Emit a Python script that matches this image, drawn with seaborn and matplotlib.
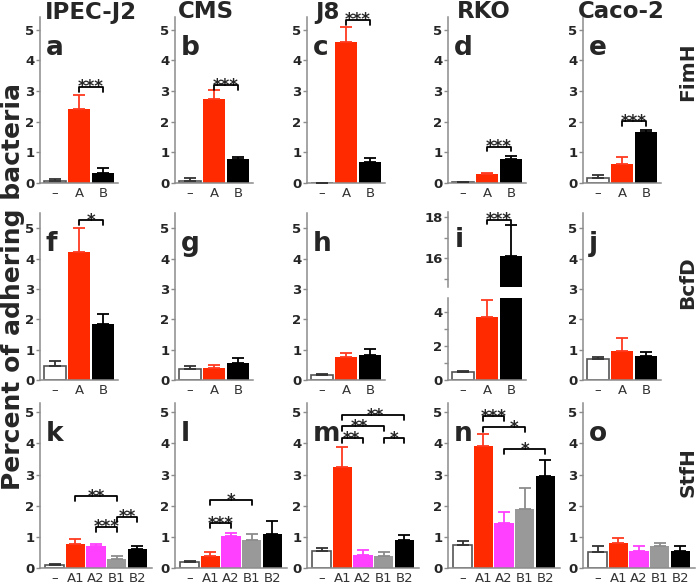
import numpy as np
import pandas as pd
import matplotlib
matplotlib.use("Agg")
import matplotlib.pyplot as plt
import seaborn as sns

# Data lest av figuren (gjennomsnitt og feil oppover)
cell_lines = ["IPEC-J2", "CMS", "J8", "RKO", "Caco-2"]
genes = ["FimH", "BcfD", "StfH"]
panel_letters = [["a", "b", "c", "d", "e"], ["f", "g", "h", "i", "j"], ["k", "l", "m", "n", "o"]]
cats_ab = ["–", "A", "B"]
cats_stfh = ["–", "A1", "A2", "B1", "B2"]

fimh_mean = [[0.07, 2.42, 0.32], [0.05, 2.75, 0.78], [0.01, 4.62, 0.67], [0.02, 0.30, 0.79], [0.17, 0.63, 1.65]]
fimh_err = [[0.07, 0.44, 0.17], [0.12, 0.30, 0.07], [0.0, 0.46, 0.16], [0.0, 0.04, 0.08], [0.10, 0.22, 0.09]]

bcfd_mean = [[0.45, 4.21, 1.85], [0.36, 0.38, 0.56], [0.16, 0.77, 0.82], [0.45, 3.75, 16.1], [0.70, 0.97, 0.79]]
bcfd_err = [[0.17, 0.80, 0.33], [0.09, 0.12, 0.15], [0.04, 0.11, 0.20], [0.10, 1.00, 1.50], [0.07, 0.40, 0.14]]

stfh_mean = [[0.09, 0.78, 0.70, 0.29, 0.60], [0.18, 0.40, 1.02, 0.90, 1.10], [0.56, 3.23, 0.43, 0.38, 0.89],
             [0.73, 3.92, 1.45, 1.90, 2.96], [0.50, 0.80, 0.54, 0.70, 0.56]]
stfh_err = [[0.04, 0.14, 0.08, 0.09, 0.10], [0.04, 0.10, 0.11, 0.20, 0.40], [0.09, 0.67, 0.16, 0.12, 0.16],
            [0.13, 0.38, 0.35, 0.68, 0.50], [0.22, 0.15, 0.16, 0.11, 0.14]]

# (kolonne, venstre søyle, høyre søyle, høyde, stjerner, x for stjernene)
fimh_sig = [(0, 1, 2, 3.14, "***", 1.5), (1, 1, 2, 3.2, "***", 1.5), (2, 1, 2, 5.33, "***", 1.5),
            (3, 1, 2, 1.19, "***", 1.5), (4, 1, 2, 2.01, "***", 1.5)]
bcfd_sig = [(0, 1, 2, 5.27, "*", 1.5), (3, 1, 2, 17.87, "***", 1.5)]
stfh_sig = [(0, 1, 3, 2.3, "**", 2.0), (0, 2, 3, 1.32, "***", 2.5), (0, 3, 4, 1.65, "**", 3.5),
            (1, 1, 3, 2.18, "*", 2.0), (1, 1, 2, 1.43, "***", 1.5),
            (2, 1, 4, 4.9, "**", 2.6), (2, 1, 3, 4.55, "**", 1.8), (2, 1, 2, 4.17, "**", 1.45), (2, 3, 4, 4.17, "*", 3.5),
            (3, 1, 2, 4.87, "***", 1.5), (3, 1, 3, 4.52, "*", 2.5), (3, 2, 4, 3.81, "*", 3.0)]

farger_ab = ["#ffffff", "#ff2a00", "#000000"]
farger_stfh = ["#ffffff", "#ff2a00", "#ff40ff", "#999999", "#000000"]
feilfarger_ab = ["#333333", "#ff3a20", "#000000"]
feilfarger_stfh = ["#333333", "#ff3a20", "#ff40ff", "#8c8c8c", "#000000"]

W, H = 700, 584
col_x = [40, 175, 307, 448, 583]
row_top = [17, 213, 403]
row_bot = [183, 380, 568]
row_ymax = [5.42, 5.5, 5.3]
title_x = [91, 206, 327, 484, 621]
gene_y = [72, 283, 472]
spine_col = "#8c8c8c"

sns.set_style("ticks")
plt.rcParams["font.family"] = ["DejaVu Sans"]

fig = plt.figure(figsize=(7, 5.84), dpi=100)


def lag_akse(x, top, bot, w):
    return fig.add_axes([x / W, 1 - bot / H, w / W, (bot - top) / H])


def tegn_panel(ax, kategorier, verdier, feil, farger, feilfarger):
    df = pd.DataFrame({"gruppe": kategorier, "verdi": verdier})
    sns.barplot(data=df, x="gruppe", y="verdi", hue="gruppe", palette=farger, width=0.94,
                errorbar=None, legend=False, ax=ax, linewidth=0, saturation=1)
    for i, p in enumerate(ax.patches):
        if i == 0:
            p.set_edgecolor("#555555")
            p.set_linewidth(1.2)
    for i in range(len(verdier)):
        ax.errorbar(i, verdier[i], yerr=[[0], [feil[i]]], color=feilfarger[i],
                    capsize=4.3, elinewidth=1.3, capthick=1.3, zorder=3)
    ax.set_xlabel("")
    ax.set_ylabel("")
    for s in ["top", "right"]:
        ax.spines[s].set_visible(False)
    for s in ["left", "bottom"]:
        ax.spines[s].set_color(spine_col)
        ax.spines[s].set_linewidth(1.1)
    ax.tick_params(axis="x", length=0, pad=3, labelsize=9.5, labelcolor="#333333")
    ax.tick_params(axis="y", which="both", length=3, width=1, color=spine_col, pad=1, labelsize=9.5)


def tegn_klamme(ax, x1, x2, y, tekst, tx, ben=0.16):
    ax.plot([x1, x1, x2, x2], [y - ben, y, y, y - ben], color="black", lw=1.3, clip_on=False, zorder=4)
    ax.annotate(tekst, xy=(tx, y), xytext=(0, -4), textcoords="offset points",
                ha="center", va="baseline", fontsize=12, fontweight="bold", annotation_clip=False)


alle_means = [fimh_mean, bcfd_mean, stfh_mean]
alle_err = [fimh_err, bcfd_err, stfh_err]
alle_sig = [fimh_sig, bcfd_sig, stfh_sig]
akser = {}

for r in range(3):
    if r < 2:
        kat, farger, feilfarger, bredde = cats_ab, farger_ab, feilfarger_ab, 78
    else:
        kat, farger, feilfarger, bredde = cats_stfh, farger_stfh, feilfarger_stfh, 112
    for c in range(5):
        if r == 1 and c == 3:
            # brutt akse for RKO / BcfD
            ax_top = lag_akse(col_x[c], 212, 287, bredde)
            ax_bot = lag_akse(col_x[c], 298, row_bot[r], bredde)
            for ax in [ax_top, ax_bot]:
                tegn_panel(ax, kat, alle_means[r][c], alle_err[r][c], farger, feilfarger)
            ax_top.set_ylim(14.6, 18.25)
            ax_top.set_yticks([16, 18])
            ax_top.set_yticks([15, 17], minor=True)
            ax_top.spines["bottom"].set_visible(False)
            ax_top.tick_params(axis="x", labelbottom=False)
            ax_bot.set_ylim(0, 4.85)
            ax_bot.set_yticks([0, 2, 4])
            ax_bot.set_yticks([1, 3], minor=True)
            for ax in [ax_top, ax_bot]:
                plt.setp(ax.get_yticklabels(), fontweight="bold")
            ax_top.annotate(panel_letters[r][c], xy=(0, 0.53), xycoords="axes fraction", xytext=(5, 0),
                            textcoords="offset points", fontsize=19, fontweight="bold", va="baseline")
            akser[(r, c)] = ax_top
            continue
        ax = lag_akse(col_x[c], row_top[r], row_bot[r], bredde)
        tegn_panel(ax, kat, alle_means[r][c], alle_err[r][c], farger, feilfarger)
        ax.set_ylim(0, row_ymax[r])
        ax.set_yticks([0, 1, 2, 3, 4, 5])
        plt.setp(ax.get_yticklabels(), fontweight="bold")
        ax.annotate(panel_letters[r][c], xy=(0, 0.77), xycoords="axes fraction", xytext=(4, 0),
                    textcoords="offset points", fontsize=19, fontweight="bold", va="baseline")
        akser[(r, c)] = ax
    for (c, x1, x2, y, tekst, tx) in alle_sig[r]:
        ben = 0.2 if (r == 1 and c == 3) else 0.16
        tegn_klamme(akser[(r, c)], x1, x2, y, tekst, tx, ben)

for c in range(5):
    fig.text(title_x[c] / W, 1 - 12 / H, cell_lines[c], ha="center", va="center",
             fontsize=16.5, fontweight="bold")

for r in range(3):
    fig.text(688 / W, 1 - gene_y[r] / H, genes[r], rotation=90, ha="center", va="center",
             fontsize=14.5, fontweight="bold")

fig.text(13 / W, 1 - 286 / H, "Percent of adhering bacteria", rotation=90, ha="center", va="center",
         fontsize=18, fontweight="bold")

fig.savefig("out.png", dpi=100)
